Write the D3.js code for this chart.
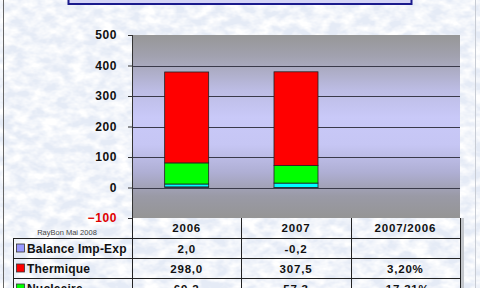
<!DOCTYPE html>
<html>
<head>
<meta charset="utf-8">
<script src="https://cdn.jsdelivr.net/npm/d3@7"></script>
<style>
body { margin: 0; overflow: hidden; }
text { font-family: "Liberation Sans", Arial, sans-serif; }
</style>
</head>
<body>
<script>
// data
var years = ["2006", "2007", "2007/2006"];
var barYears = ["2006", "2007"];
var balance = [2.0, -0.2];
var hydro = [9.5, 14.5];
var nucleaire = [69.2, 57.3];
var thermique = [298.0, 307.5];
var seriesNames = ["Balance Imp-Exp", "Hydraulique", "Nucleaire", "Thermique"];
var seriesColors = ["#9999ff", "#00ffff", "#00ff00", "#ff0000"];
var yTicks = [-100, 0, 100, 200, 300, 400, 500];

// table rows (only the ones visible)
var rowLabels = ["Balance Imp-Exp", "Thermique", "Nucleaire"];
var rowColors = ["#9999ff", "#ff0000", "#00ff00"];
var rowValues = [
    ["2,0", "-0,2", ""],
    ["298,0", "307,5", "3,20%"],
    ["69,2", "57,3", "-17,31%"]
];

var W = 480, H = 288;
var svg = d3.select("body").append("svg").attr("width", W).attr("height", H);
var defs = svg.append("defs");

// frosted background
var f = defs.append("filter").attr("id", "frost").attr("x", 0).attr("y", 0).attr("width", 1).attr("height", 1);
f.append("feTurbulence").attr("type", "fractalNoise").attr("baseFrequency", "0.07 0.11").attr("numOctaves", 3).attr("seed", 7).attr("result", "n");
f.append("feColorMatrix").attr("in", "n").attr("type", "matrix")
    .attr("values", "0 0 0 0 1  0 0 0 0 1  0 0 0 0 1  2.4 0 0 0 -0.75").attr("result", "w");
f.append("feComposite").attr("in", "w").attr("in2", "SourceGraphic").attr("operator", "over");

svg.append("rect").attr("width", W).attr("height", H).attr("fill", "#e5ebf6").attr("filter", "url(#frost)");

// outer frame lines
svg.append("line").attr("x1", 3.5).attr("x2", 3.5).attr("y1", 0).attr("y2", H).attr("stroke", "#666").attr("stroke-width", 1);
svg.append("line").attr("x1", 475.5).attr("x2", 475.5).attr("y1", 0).attr("y2", H).attr("stroke", "#c8ccd4").attr("stroke-width", 1);

// title box (cut off at top)
svg.append("rect").attr("x", 68.5).attr("y", -20).attr("width", 343).attr("height", 24)
    .attr("fill", "#d4d4f6").attr("stroke", "#1a1a8c").attr("stroke-width", 2);

// plot area
var plotLeft = 132, plotRight = 460, plotTop = 35, plotBottom = 218;
var y = d3.scaleLinear().domain([-100, 500]).range([plotBottom, plotTop]);
var x = d3.scaleBand().domain(years).range([plotLeft, plotRight]);

var g = defs.append("linearGradient").attr("id", "plotbg").attr("x1", 0).attr("x2", 0).attr("y1", 0).attr("y2", 1);
[[0, "#979797"], [0.12, "#a2a2b0"], [0.3, "#bcbce4"], [0.45, "#c9c9f8"], [0.6, "#c6c6f4"], [0.75, "#afafd4"], [0.88, "#9a9aa6"], [1, "#959595"]]
    .forEach(function(s) { g.append("stop").attr("offset", s[0]).attr("stop-color", s[1]); });

svg.append("rect").attr("x", plotLeft).attr("y", plotTop).attr("width", plotRight - plotLeft).attr("height", plotBottom - plotTop)
    .attr("fill", "url(#plotbg)");

// gridlines
svg.append("g").selectAll("line").data(yTicks.filter(function(d) { return d > -100 && d < 500; }))
    .enter().append("line")
    .attr("x1", plotLeft).attr("x2", plotRight)
    .attr("y1", function(d) { return Math.round(y(d)) + 0.5; })
    .attr("y2", function(d) { return Math.round(y(d)) + 0.5; })
    .attr("stroke", "#3a3a4a").attr("stroke-width", 1);

// stacked bars
var rows = barYears.map(function(yr, i) {
    return { year: yr, "Balance Imp-Exp": balance[i], "Hydraulique": hydro[i], "Nucleaire": nucleaire[i], "Thermique": thermique[i] };
});
var stack = d3.stack().keys(seriesNames).offset(d3.stackOffsetDiverging)(rows);
var barW = 44;

svg.append("g").selectAll("g").data(stack).enter().append("g")
    .attr("fill", function(d, i) { return seriesColors[i]; })
    .selectAll("rect").data(function(d) { return d; })
    .enter().append("rect")
    .attr("x", function(d) { return x(d.data.year) + x.bandwidth() / 2 - barW / 2; })
    .attr("y", function(d) { return y(Math.max(d[0], d[1])); })
    .attr("width", barW)
    .attr("height", function(d) { return Math.abs(y(d[0]) - y(d[1])); })
    .attr("stroke", "#222").attr("stroke-width", 0.8);

// y axis
var axis = svg.append("g").attr("transform", "translate(" + plotLeft + ",0)")
    .call(d3.axisLeft(y).tickValues(yTicks).tickSize(4).tickPadding(11));
axis.select(".domain").attr("stroke", "#333").attr("d", "M0.5," + plotTop + "V" + plotBottom);
axis.selectAll(".tick line").attr("stroke", "#333");
axis.selectAll(".tick text")
    .style("font-family", "'Liberation Sans', Arial, sans-serif")
    .style("font-weight", "bold").style("font-size", "12px").style("letter-spacing", "0.6px")
    .attr("fill", function(d) { return d < 0 ? "#e00000" : "#111"; });

// table
var rowH = 20;
var tableTop = plotBottom;
svg.append("text").attr("x", 67).attr("y", 235).attr("text-anchor", "middle")
    .style("font-size", "7.5px").attr("fill", "#444").text("RayBon Mai 2008");

svg.append("rect").attr("x", plotRight + 1).attr("y", tableTop).attr("width", 3).attr("height", H - tableTop).attr("fill", "#c4c7cc");

var tg = svg.append("g").attr("stroke", "#222").attr("stroke-width", 1);
x.domain().forEach(function(d) {
    tg.append("line").attr("x1", Math.round(x(d)) + 0.5).attr("x2", Math.round(x(d)) + 0.5)
        .attr("y1", tableTop).attr("y2", H);
});
tg.append("line").attr("x1", plotRight + 0.5).attr("x2", plotRight + 0.5).attr("y1", tableTop).attr("y2", H);
tg.append("line").attr("x1", 13.5).attr("x2", 13.5).attr("y1", tableTop + rowH).attr("y2", H);
[0, 1, 2].forEach(function(i) {
    var yy = tableTop + rowH * (i + 1) + 0.5;
    tg.append("line").attr("x1", 13).attr("x2", plotRight + 1).attr("y1", yy).attr("y2", yy);
});

var cellFont = function(sel) {
    sel.style("font-weight", "bold").style("font-size", "11.5px").style("letter-spacing", "0.8px").attr("fill", "#111");
};

svg.append("g").selectAll("text").data(years).enter().append("text")
    .attr("x", function(d) { return x(d) + x.bandwidth() / 2; })
    .attr("y", tableTop + 14)
    .attr("text-anchor", "middle")
    .call(cellFont)
    .text(function(d) { return d; });

rowLabels.forEach(function(lab, i) {
    var yc = tableTop + rowH * (i + 1) + rowH / 2;
    svg.append("rect").attr("x", 16.5).attr("y", yc - 4).attr("width", 8).attr("height", 8)
        .attr("fill", rowColors[i]).attr("stroke", "#333").attr("stroke-width", 0.8);
    svg.append("text").attr("x", 27).attr("y", yc + 4.5)
        .style("font-weight", "bold").style("font-size", "12px").style("letter-spacing", "0.2px").attr("fill", "#111")
        .text(lab);
    svg.append("g").selectAll("text").data(rowValues[i]).enter().append("text")
        .attr("x", function(d, j) { return x(years[j]) + x.bandwidth() / 2; })
        .attr("y", yc + 4.5)
        .attr("text-anchor", "middle")
        .call(cellFont)
        .text(function(d) { return d; });
});
</script>
</body>
</html>
